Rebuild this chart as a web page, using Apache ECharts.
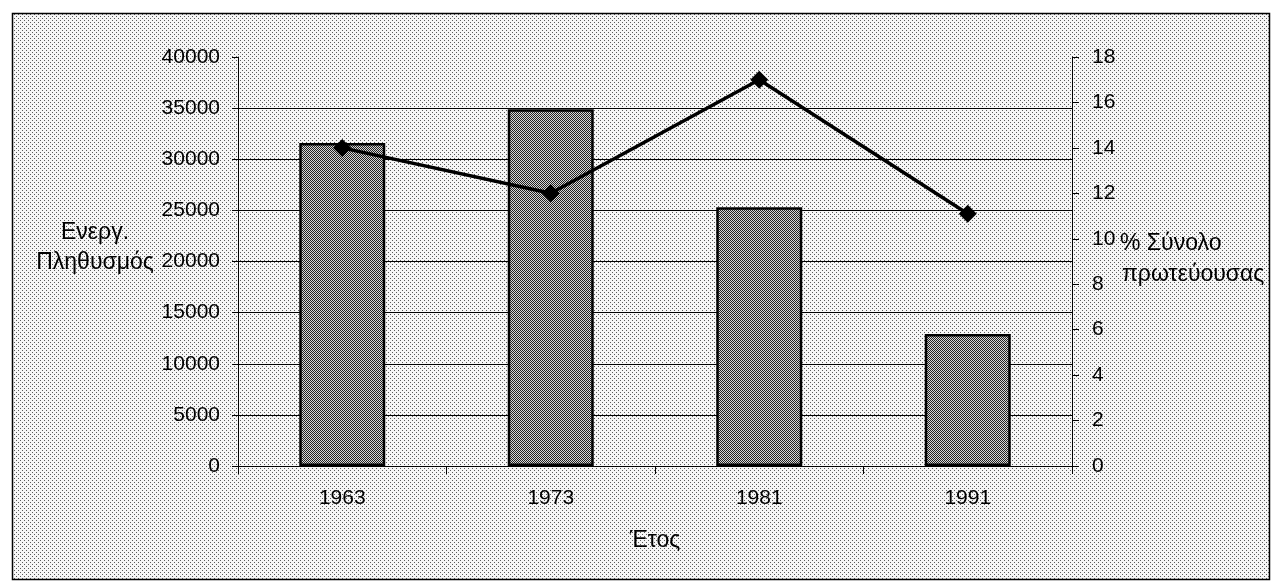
<!DOCTYPE html>
<html>
<head>
<meta charset="utf-8">
<script src="https://cdn.jsdelivr.net/npm/echarts@6/dist/echarts.min.js"></script>
<style>
html,body{margin:0;padding:0;background:#fff;}
#chart{width:1275px;height:584px;}
</style>
</head>
<body>
<div id="chart"></div>
<script>
// ---- data ----
const years = ['1963', '1973', '1981', '1991'];
const activePopulation = [31600, 34900, 25300, 12900];
const percentOfCapital = [14, 12, 17, 11.1];
const leftTicks = { min: 0, max: 40000, interval: 5000 };
const rightTicks = { min: 0, max: 18, interval: 2 };
const leftName = 'Ενεργ.\nΠληθυσμός';
const rightName1 = '% Σύνολο';
const rightName2 = 'πρωτεύουσας';
const xName = 'Έτος';

// ---- patterns ----
function makePattern(size, dots, bg, fg) {
  const c = document.createElement('canvas');
  c.width = size; c.height = size;
  const ctx = c.getContext('2d');
  ctx.fillStyle = bg; ctx.fillRect(0, 0, size, size);
  ctx.fillStyle = fg;
  dots.forEach(d => ctx.fillRect(d[0], d[1], 1, 1));
  return c;
}
const bgPattern = makePattern(4, [[0,0],[2,2]], '#f6f6f6', '#5a5a5a');
const barPattern = makePattern(2, [[0,0],[1,1]], '#d8d8d8', '#222222');

const FONT = 'Liberation Sans, Arial, sans-serif';
const plain = v => String(v);
const chart = echarts.init(document.getElementById('chart'), null, { renderer: 'canvas' });

chart.setOption({
  backgroundColor: '#ffffff',
  animation: false,
  grid: { left: 238, right: 203, top: 57, bottom: 118, containLabel: false },
  graphic: [
    {
      type: 'rect', z: -10, silent: true,
      shape: { x: 12.5, y: 13.5, width: 1257, height: 566 },
      style: { fill: { image: bgPattern, repeat: 'repeat' }, stroke: '#000', lineWidth: 1.5 }
    },
    {
      type: 'text', z: 10, x: 95, y: 218,
      style: { text: leftName, fill: '#000', font: '23px ' + FONT, textAlign: 'center', textVerticalAlign: 'top', lineHeight: 30 }
    },
    {
      type: 'text', z: 10, x: 1120, y: 244,
      style: { text: rightName1, fill: '#000', font: '23px ' + FONT, textAlign: 'left', textVerticalAlign: 'middle' }
    },
    {
      type: 'text', z: 10, x: 1122, y: 275,
      style: { text: rightName2, fill: '#000', font: '23px ' + FONT, textAlign: 'left', textVerticalAlign: 'middle' }
    }
  ],
  xAxis: {
    type: 'category',
    data: years,
    boundaryGap: true,
    name: xName,
    nameLocation: 'middle',
    nameGap: 63,
    nameTextStyle: { color: '#000', fontSize: 23, fontFamily: FONT },
    axisLine: { show: true, lineStyle: { color: '#000', width: 1 } },
    axisTick: { show: true, length: 8, alignWithLabel: false, lineStyle: { color: '#000' } },
    axisLabel: { color: '#000', fontSize: 21, fontFamily: FONT, margin: 22 },
    splitLine: { show: false }
  },
  yAxis: [
    {
      type: 'value',
      min: leftTicks.min, max: leftTicks.max, interval: leftTicks.interval,
      position: 'left',
      axisLine: { show: true, lineStyle: { color: '#000', width: 1 } },
      axisTick: { show: true, length: 6, lineStyle: { color: '#000' } },
      axisLabel: { color: '#000', fontSize: 21, fontFamily: FONT, margin: 18, formatter: plain },
      splitLine: { show: true, showMaxLine: false, lineStyle: { color: '#000', width: 1 } }
    },
    {
      type: 'value',
      min: rightTicks.min, max: rightTicks.max, interval: rightTicks.interval,
      position: 'right',
      axisLine: { show: true, lineStyle: { color: '#000', width: 1 } },
      axisTick: { show: true, length: 7, lineStyle: { color: '#000' } },
      axisLabel: { color: '#000', fontSize: 21, fontFamily: FONT, margin: 20, formatter: plain },
      splitLine: { show: false }
    }
  ],
  series: [
    {
      type: 'bar',
      data: activePopulation,
      yAxisIndex: 0,
      barWidth: 86,
      itemStyle: { color: { image: barPattern, repeat: 'repeat' }, borderColor: '#000', borderWidth: 2.5 }
    },
    {
      type: 'line',
      data: percentOfCapital,
      yAxisIndex: 1,
      symbol: 'diamond',
      symbolSize: 18,
      lineStyle: { color: '#000', width: 3.5 },
      itemStyle: { color: '#000' },
      z: 5
    }
  ]
});
</script>
</body>
</html>
